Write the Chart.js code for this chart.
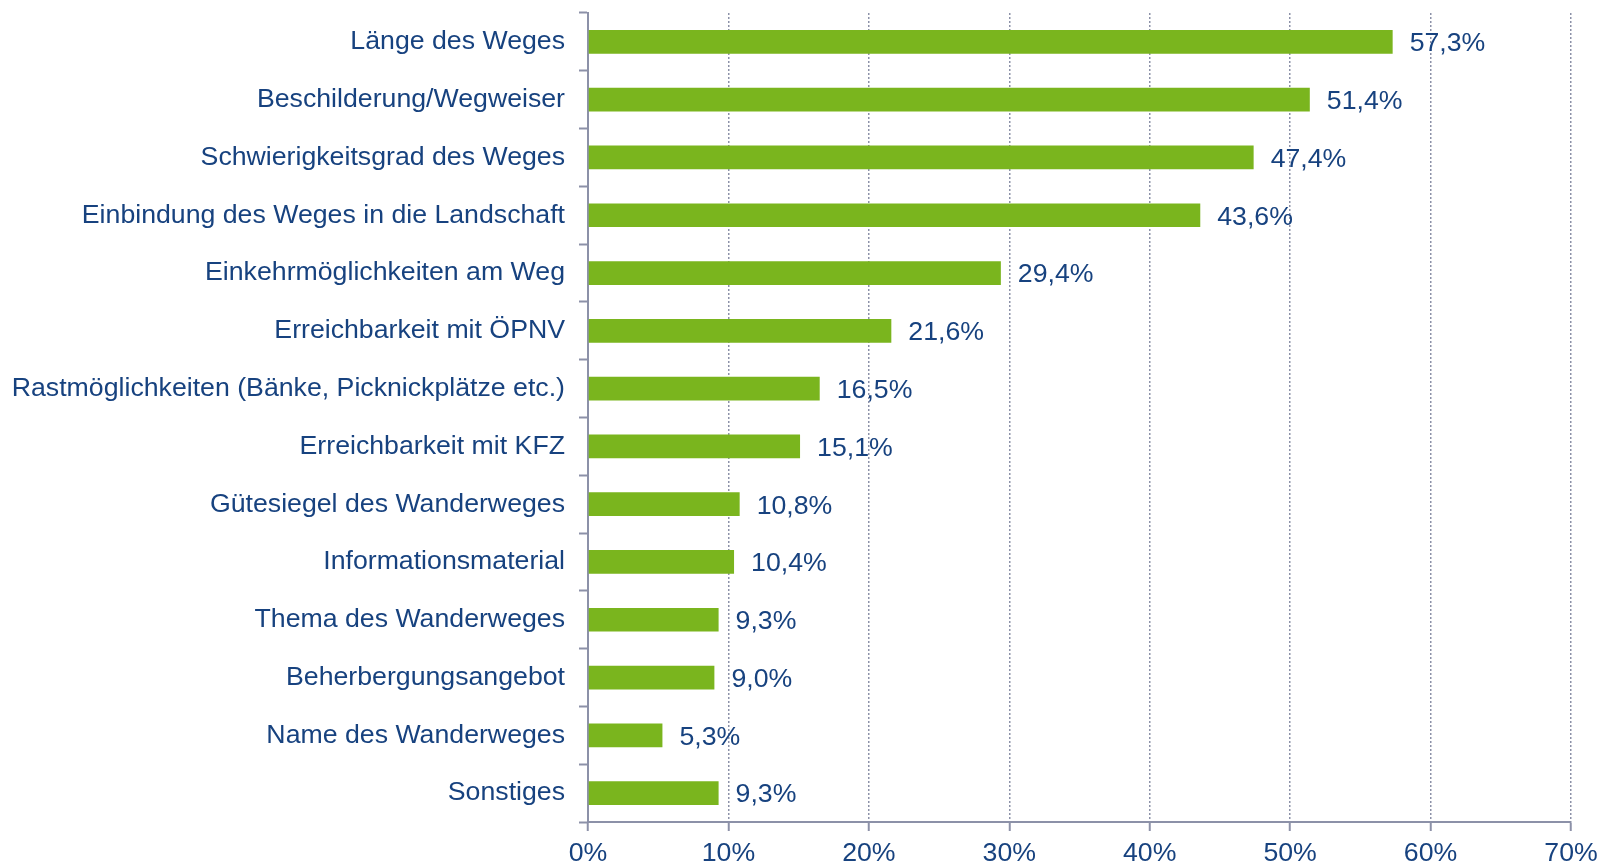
<!DOCTYPE html>
<html>
<head>
<meta charset="utf-8">
<script src="https://cdn.jsdelivr.net/npm/chart.js@4.4.1/dist/chart.umd.min.js"></script>
<style>
  html, body { margin: 0; padding: 0; background: #fff; }
  #wrap { width: 1601px; height: 866px; }
</style>
</head>
<body>
<div id="wrap"><canvas id="chart" width="1601" height="866"></canvas></div>
<script>
const categories = [
  "Länge des Weges",
  "Beschilderung/Wegweiser",
  "Schwierigkeitsgrad des Weges",
  "Einbindung des Weges in die Landschaft",
  "Einkehrmöglichkeiten am Weg",
  "Erreichbarkeit mit ÖPNV",
  "Rastmöglichkeiten (Bänke, Picknickplätze etc.)",
  "Erreichbarkeit mit KFZ",
  "Gütesiegel des Wanderweges",
  "Informationsmaterial",
  "Thema des Wanderweges",
  "Beherbergungsangebot",
  "Name des Wanderweges",
  "Sonstiges"
];
const values = [57.3, 51.4, 47.4, 43.6, 29.4, 21.6, 16.5, 15.1, 10.8, 10.4, 9.3, 9.0, 5.3, 9.3];
const xTicks = [0, 10, 20, 30, 40, 50, 60, 70];

const textColor = "#17427f";
const axisColor = "#8c91a8";
const fontFamily = "'Liberation Sans', Arial, sans-serif";
const fontSize = 26.7;

function fmt(v) {
  return v.toFixed(1).replace(".", ",") + "%";
}

// draws the value next to each bar
const valueLabels = {
  id: "valueLabels",
  afterDatasetsDraw(chart) {
    const ctx = chart.ctx;
    const meta = chart.getDatasetMeta(0);
    ctx.save();
    ctx.font = fontSize + "px " + fontFamily;
    ctx.fillStyle = textColor;
    ctx.textAlign = "left";
    ctx.textBaseline = "middle";
    meta.data.forEach((bar, i) => {
      ctx.fillText(fmt(values[i]), bar.x + 17, bar.y + 2);
    });
    ctx.restore();
  }
};

new Chart(document.getElementById("chart"), {
  type: "bar",
  data: {
    labels: categories,
    datasets: [{
      data: values,
      backgroundColor: "#7ab51e",
      borderWidth: 0,
      barPercentage: 0.41,
      categoryPercentage: 1.0
    }]
  },
  options: {
    indexAxis: "y",
    responsive: false,
    animation: false,
    layout: { padding: { top: 13, right: 30, left: 0, bottom: 0 } },
    plugins: {
      legend: { display: false },
      tooltip: { enabled: false }
    },
    scales: {
      x: {
        min: 0,
        max: 70,
        afterBuildTicks(scale) {
          scale.ticks = xTicks.map(v => ({ value: v }));
        },
        afterFit(scale) {
          scale.height = 44;
          scale.paddingLeft = 0;
          scale.paddingRight = 0;
        },
        border: { display: true, color: axisColor, width: 2, dash: [2, 2] },
        grid: {
          color: axisColor,
          lineWidth: 1.5,
          tickBorderDash: [],
          tickLength: 9,
          tickWidth: 2,
          tickColor: axisColor
        },
        ticks: {
          color: textColor,
          font: { family: fontFamily, size: fontSize },
          padding: 7,
          callback: v => v + "%"
        }
      },
      y: {
        afterFit(scale) {
          scale.width = 588;
          scale.paddingTop = 0;
          scale.paddingBottom = 0;
        },
        border: { display: true, color: axisColor, width: 2 },
        grid: {
          offset: true,
          drawOnChartArea: false,
          tickLength: 9,
          tickWidth: 2,
          color: axisColor
        },
        ticks: {
          color: textColor,
          font: { family: fontFamily, size: fontSize },
          padding: 14
        }
      }
    }
  },
  plugins: [valueLabels]
});
</script>
</body>
</html>
